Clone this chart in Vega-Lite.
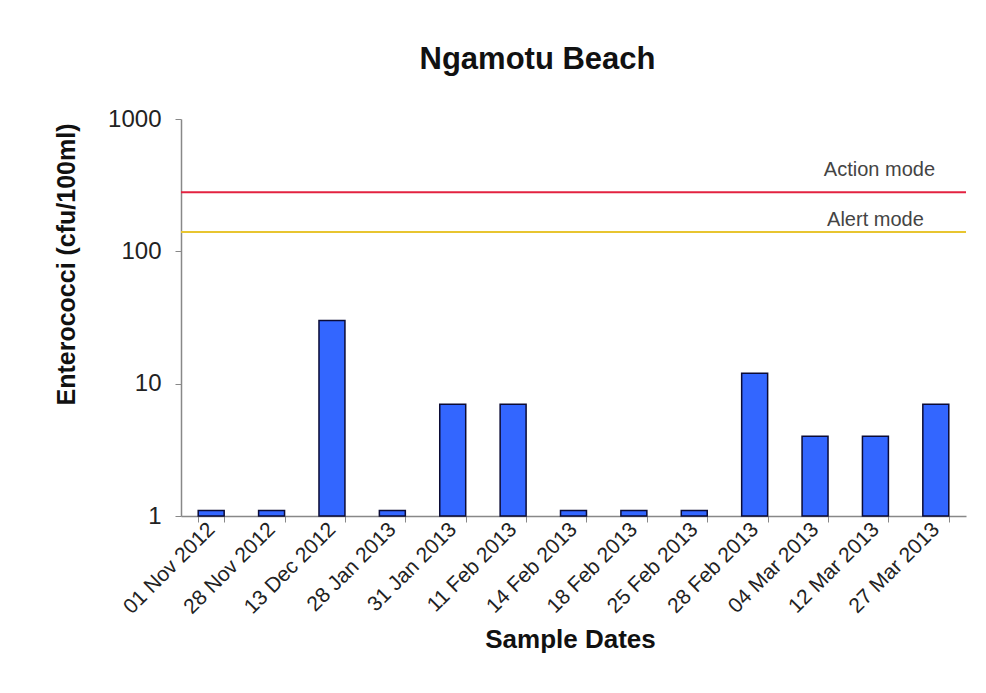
{
  "$schema": "https://vega.github.io/schema/vega-lite/v6.json",
  "autosize": {"type": "none"},
  "width": 785,
  "height": 397,
  "padding": {"left": 181, "top": 119, "right": 20, "bottom": 177},
  "background": "white",
  "config": {
    "font": "Liberation Sans",
    "view": {"stroke": null}
  },
  "title": {
    "text": "Ngamotu Beach",
    "fontSize": 31,
    "fontWeight": "bold",
    "font": "Liberation Sans",
    "color": "#111111",
    "frame": "group",
    "anchor": "middle",
    "baseline": "alphabetic",
    "offset": 49,
    "dx": -36,
    "dy": 42
  },
  "datasets": {
    "samples": [
      {"date": "01 Nov 2012", "value": 1.1},
      {"date": "28 Nov 2012", "value": 1.1},
      {"date": "13 Dec 2012", "value": 30},
      {"date": "28 Jan 2013", "value": 1.1},
      {"date": "31 Jan 2013", "value": 7},
      {"date": "11 Feb 2013", "value": 7},
      {"date": "14 Feb 2013", "value": 1.1},
      {"date": "18 Feb 2013", "value": 1.1},
      {"date": "25 Feb 2013", "value": 1.1},
      {"date": "28 Feb 2013", "value": 12},
      {"date": "04 Mar 2013", "value": 4},
      {"date": "12 Mar 2013", "value": 4},
      {"date": "27 Mar 2013", "value": 7}
    ],
    "action": [{"label": "Action mode", "level": 280, "date": "12 Mar 2013"}],
    "alert": [{"label": "Alert mode", "level": 140, "date": "12 Mar 2013"}]
  },
  "layer": [
    {
      "data": {"name": "samples"},
      "mark": {"type": "bar", "color": "#3366FF", "stroke": "#0B0B35", "strokeWidth": 1.5},
      "encoding": {
        "x": {
          "field": "date",
          "type": "nominal",
          "sort": null,
          "scale": {"paddingInner": 0.57, "paddingOuter": 0.285},
          "axis": {
            "title": "Sample Dates",
            "titleFontSize": 26,
            "titleFontWeight": "bold",
            "titleColor": "#111111",
            "titleX": 389,
            "titleY": 131,
            "titleBaseline": "alphabetic",
            "labelAngle": -45,
            "labelAlign": "right",
            "labelBaseline": "middle",
            "labelFontSize": 21,
            "labelColor": "#222222",
            "labelPadding": 4,
            "tickBand": "extent",
            "tickSize": 6,
            "tickColor": "#888888",
            "domainColor": "#888888",
            "domainWidth": 1.5,
            "grid": false
          }
        },
        "y": {
          "field": "value",
          "type": "quantitative",
          "scale": {"type": "log", "domain": [1, 1000], "nice": false},
          "axis": {
            "title": "Enterococci (cfu/100ml)",
            "titleFontSize": 25,
            "titleFontWeight": "bold",
            "titleColor": "#111111",
            "titleAngle": 270,
            "titleX": -115,
            "titleY": 145,
            "titleAlign": "center",
            "titleBaseline": "middle",
            "values": [1, 10, 100, 1000],
            "format": "d",
            "labelFontSize": 24,
            "labelColor": "#222222",
            "labelPadding": 14,
            "tickSize": 6,
            "tickColor": "#888888",
            "domainColor": "#888888",
            "domainWidth": 1.5,
            "grid": false
          }
        },
        "y2": {"datum": 1}
      }
    },
    {
      "data": {"name": "action"},
      "mark": {"type": "rule", "color": "#E32240", "strokeWidth": 2},
      "encoding": {"y": {"field": "level", "type": "quantitative"}}
    },
    {
      "data": {"name": "alert"},
      "mark": {"type": "rule", "color": "#E8C530", "strokeWidth": 2},
      "encoding": {"y": {"field": "level", "type": "quantitative"}}
    },
    {
      "data": {"name": "action"},
      "mark": {"type": "text", "fontSize": 20, "color": "#444444", "baseline": "alphabetic", "align": "center", "dy": -16, "dx": 4},
      "encoding": {
        "x": {"field": "date", "type": "nominal", "sort": null},
        "y": {"field": "level", "type": "quantitative"},
        "text": {"field": "label"}
      }
    },
    {
      "data": {"name": "alert"},
      "mark": {"type": "text", "fontSize": 20, "color": "#444444", "baseline": "alphabetic", "align": "center", "dy": -6, "dx": 0},
      "encoding": {
        "x": {"field": "date", "type": "nominal", "sort": null},
        "y": {"field": "level", "type": "quantitative"},
        "text": {"field": "label"}
      }
    }
  ]
}
